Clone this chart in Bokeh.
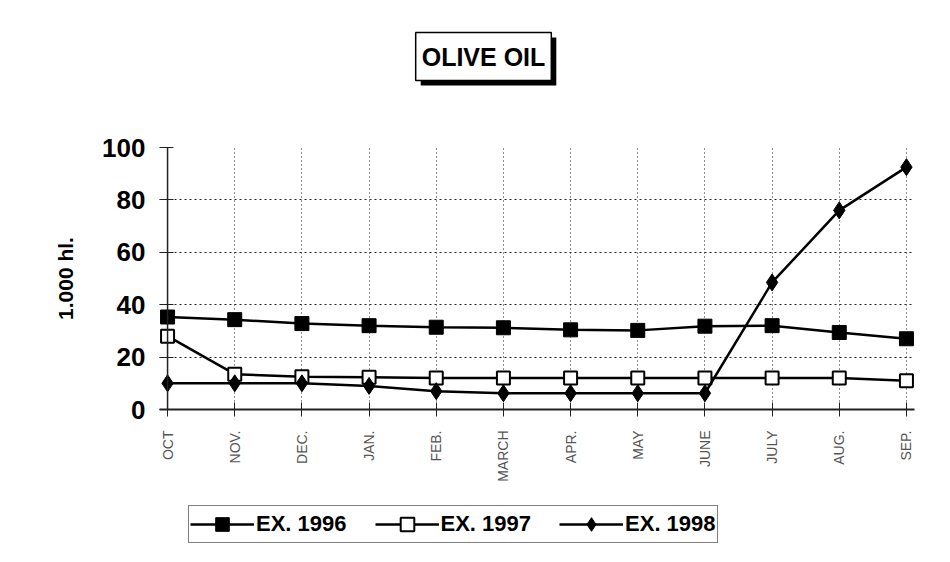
from bokeh.plotting import figure
from bokeh.layouts import column
from bokeh.models import (Range1d, Span, Label, Legend, LegendItem, FixedTicker,
                          ColumnDataSource)
from bokeh.embed import file_html
from bokeh.resources import INLINE
import math

# ---- data ----
months = ["OCT", "NOV.", "DEC.", "JAN.", "FEB.", "MARCH", "APR.", "MAY", "JUNE", "JULY", "AUG.", "SEP."]
ex_1996 = [35.3, 34.3, 32.8, 32.0, 31.4, 31.2, 30.4, 30.2, 31.8, 32.0, 29.4, 27.0]
ex_1997 = [28.0, 13.5, 12.5, 12.3, 12.0, 12.0, 12.0, 12.0, 12.0, 12.0, 12.0, 11.0]
ex_1998 = [10.0, 10.0, 10.0, 9.0, 7.0, 6.2, 6.2, 6.2, 6.2, 48.5, 76.0, 92.5]
y_ticks = [0, 20, 40, 60, 80, 100]
series_names = ["EX. 1996", "EX. 1997", "EX. 1998"]
title_text = "OLIVE OIL"
y_label = "1.000 hl."

idx = list(range(len(months)))
src = ColumnDataSource(dict(x=idx, a=ex_1996, b=ex_1997, c=ex_1998))

FONT = "Liberation Sans"
W = 948

# series styles
S1 = dict(marker="square", size=14, fill_color="black", line_color="black")
S2 = dict(marker="square", size=13, fill_color="white", line_color="black", line_width=2)
S3 = dict(marker="diamond", size=17, fill_color="black", line_color="black")
LINE = dict(line_color="black", line_width=2.5)

# ---------- title strip (frame left edge aligns with main frame at x=159) ----------
pt = figure(width=W, height=100, output_backend="svg", toolbar_location=None,
            x_axis_location=None, y_axis_location=None, min_border=0,
            x_range=Range1d(0, 1), y_range=Range1d(0, 1))
pt.outline_line_color = None
pt.xgrid.grid_line_color = None
pt.ygrid.grid_line_color = None
pad = dict(left=6, right=6, top=10, bottom=10)
pt.add_layout(Label(x=329, y=39, x_units="screen", y_units="screen", text=title_text,
                    text_font=FONT, text_font_style="bold", text_font_size="25px",
                    text_color="black", text_align="center", text_baseline="middle",
                    background_fill_color="black", padding=pad))
pt.add_layout(Label(x=324, y=44, x_units="screen", y_units="screen", text=title_text,
                    text_font=FONT, text_font_style="bold", text_font_size="25px",
                    text_color="black", text_align="center", text_baseline="middle",
                    background_fill_color="white", border_line_color="black",
                    border_line_width=1.5, padding=pad))

# ---------- main chart ----------
p = figure(width=W, height=399, output_backend="svg", toolbar_location=None,
           x_range=Range1d(-0.12, len(months) - 1 + 0.12), y_range=Range1d(0, 100),
           min_border_left=159, min_border_right=W - 914, min_border_top=47, min_border_bottom=90)
p.outline_line_color = None

p.xaxis.ticker = FixedTicker(ticks=idx)
p.yaxis.ticker = FixedTicker(ticks=y_ticks)
p.xgrid.grid_line_color = "#222222"
p.xgrid.grid_line_dash = "1 3"
p.ygrid.grid_line_color = "#222222"
p.ygrid.grid_line_dash = "2 3"

p.xaxis.major_label_overrides = {i: m for i, m in enumerate(months)}
p.xaxis.major_label_orientation = math.pi / 2
p.xaxis.major_label_text_font = FONT
p.xaxis.major_label_text_font_size = "14px"
p.xaxis.major_label_text_color = "#555555"
p.xaxis.major_label_standoff = 14
p.xaxis.axis_line_color = "#222222"
p.xaxis.axis_line_width = 2
p.xaxis.major_tick_in = 7
p.xaxis.major_tick_out = 7
p.xaxis.major_tick_line_color = "#222222"
p.xaxis.minor_tick_line_color = None

p.yaxis.axis_line_color = None
p.yaxis.major_tick_in = 14
p.yaxis.major_tick_out = 0
p.yaxis.major_tick_line_color = "#222222"
p.yaxis.minor_tick_line_color = None
p.yaxis.major_label_text_font = FONT
p.yaxis.major_label_text_font_style = "bold"
p.yaxis.major_label_text_font_size = "26px"
p.yaxis.major_label_text_color = "black"
p.yaxis.major_label_standoff = 14
p.yaxis.axis_label = y_label
p.yaxis.axis_label_text_font = FONT
p.yaxis.axis_label_text_font_style = "bold"
p.yaxis.axis_label_text_font_size = "21px"
p.yaxis.axis_label_text_color = "black"
p.yaxis.axis_label_standoff = 22

p.add_layout(Span(location=0, dimension="height", line_color="#222222", line_width=1.5))

p.line("x", "a", source=src, **LINE)
p.scatter("x", "a", source=src, **S1)
p.line("x", "b", source=src, **LINE)
p.scatter("x", "b", source=src, **S2)
p.line("x", "c", source=src, **LINE)
p.scatter("x", "c", source=src, **S3)

# ---------- legend strip (same series, ranges chosen so only the legend shows) ----------
pl = figure(width=W, height=60, output_backend="svg", toolbar_location=None,
            x_axis_location=None, y_axis_location=None, min_border=0,
            x_range=Range1d(0, 1), y_range=Range1d(-200, -100))
pl.outline_line_color = None
pl.xgrid.grid_line_color = None
pl.ygrid.grid_line_color = None
g1 = [pl.line("x", "a", source=src, **LINE), pl.scatter("x", "a", source=src, **S1)]
g2 = [pl.line("x", "b", source=src, **LINE), pl.scatter("x", "b", source=src, **S2)]
g3 = [pl.line("x", "c", source=src, **LINE), pl.scatter("x", "c", source=src, **S3)]
legend = Legend(items=[LegendItem(label=series_names[0], renderers=g1),
                       LegendItem(label=series_names[1], renderers=g2),
                       LegendItem(label=series_names[2], renderers=g3)],
                orientation="horizontal", location=(29, 16))
legend.label_text_font = FONT
legend.label_text_font_style = "bold"
legend.label_text_font_size = "22px"
legend.label_text_color = "black"
legend.glyph_width = 64
legend.glyph_height = 34
legend.label_standoff = 2
legend.spacing = 28
legend.padding = 1
legend.margin = 0
legend.border_line_color = "black"
legend.border_line_width = 1.5
legend.background_fill_color = "white"
legend.background_fill_alpha = 1
pl.add_layout(legend, "center")

layout = column(pt, p, pl, spacing=0)
open("out.html", "w").write(file_html(layout, INLINE))
